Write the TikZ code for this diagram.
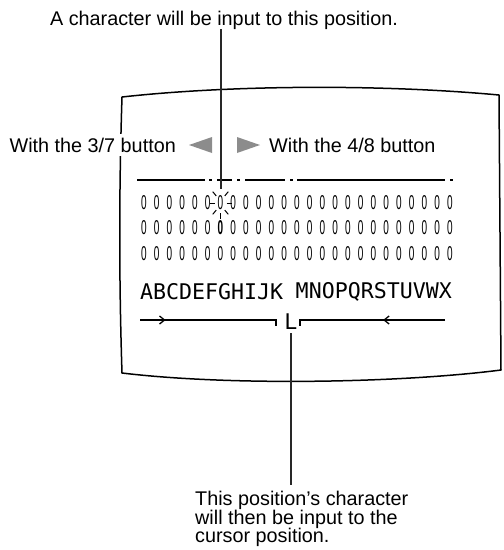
\documentclass[tikz,border=0pt]{standalone}
\usepackage{graphicx}
\usepackage{fontspec}
\setmainfont{Liberation Sans}
\newfontfamily\dispfont{DejaVu Sans Mono}
\usetikzlibrary{arrows.meta, decorations.markings}
\definecolor{btngray}{RGB}{140,140,140}
\definecolor{pointerblack}{RGB}{40,40,40}

\begin{document}
\begin{tikzpicture}[x=1pt, y=-1pt, >={Straight Barb[length=5pt, width=8pt]}, font=\fontsize{19.8}{18.5}\selectfont,
    label text/.style={inner sep=0pt},
    zero/.style={inner sep=0pt, font=\fontsize{20}{20}\selectfont},
    disp/.style={inner sep=0pt, font=\dispfont\fontsize{21.6}{22}\selectfont},
    pointer/.style={pointerblack, line width=2pt},
    mid arrow/.style={postaction={decorate}, decoration={markings, mark=at position #1 with {\arrow{>}}}}]
	%Bildbereich
	\useasboundingbox (0,0) rectangle (504,550);
	% Bildschirm zeichnen
	\draw[line width=1.5pt, line join=round] (122,97) .. controls (230,85) and (380,84) .. (499,95)
		-- (501,370) .. controls (400,383) and (230,386) .. (122,373)
		.. controls (119,280) and (119,190) .. (122,97) -- cycle;
	% Texte
	\node[label text] (toptext) at (224,20) {A character will be input to this position.};
	\node[label text, anchor=east, fill=white, inner ysep=4pt] (btnleft) at (176,145) {With the 3/7 button};
	\node[label text, anchor=west] (btnright) at (269,145) {With the 4/8 button};
	\node[label text, anchor=north west, align=left] (bottomtext) at (195,491)
		{This position's character\\will then be input to the\\cursor position.};
	% Tasten
	\fill[btngray] (189,145) -- (212,137) -- (212,153) -- cycle;
	\fill[btngray] (260,145) -- (237,137) -- (237,153) -- cycle;
	% Strichpunktlinie
	\foreach \a/\b in {137/205, 209/212, 217/232, 237/240, 245/285, 290/293, 297/445, 450/453}
		\draw[line width=1.4pt] (\a,180) -- (\b,180);
	% Nullen
	\foreach \r/\y in {1/203, 2/228, 3/254}
		\foreach \c in {1,...,25}
			\node[zero] (z\r-\c) at ({144+(\c-1)*12.75},\y) {\ifnum\r\c=27\bfseries\fi\scalebox{0.5}[1]{0}};
	% Markierung
	\foreach \a in {0,45,90,135,180,225,315}
		\draw[line width=1pt] (z1-7.center) ++(\a:6 and 10) -- ++(\a:5 and 6);
	% Zeichenvorrat
	\node[disp, anchor=west] (abcleft) at (140,292) {ABCDEFGHIJK};
	\node[disp, anchor=east] (abcright) at (452,292) {MNOPQRSTUVWX};
	\node[disp] (cursorL) at (291,322) {L};
	\coordinate (la) at (140,320);
	\coordinate (lb) at (276,320);
	\coordinate (ra) at (445,320);
	\coordinate (rb) at (300,320);
	\draw[line width=1.3pt, mid arrow=0.18] (la) -- (lb) -- ++(0,6);
	\draw[line width=1.3pt, mid arrow=0.41] (ra) -- (rb) -- ++(0,6);
	% Zeiger
	\draw[pointer, shorten >=7pt] (toptext.south -| z1-7) -- (z1-7.north);
	\draw[pointer, shorten <=3pt, shorten >=6pt] (cursorL.south) -- (cursorL.south |- bottomtext.north);
\end{tikzpicture}
\end{document}
